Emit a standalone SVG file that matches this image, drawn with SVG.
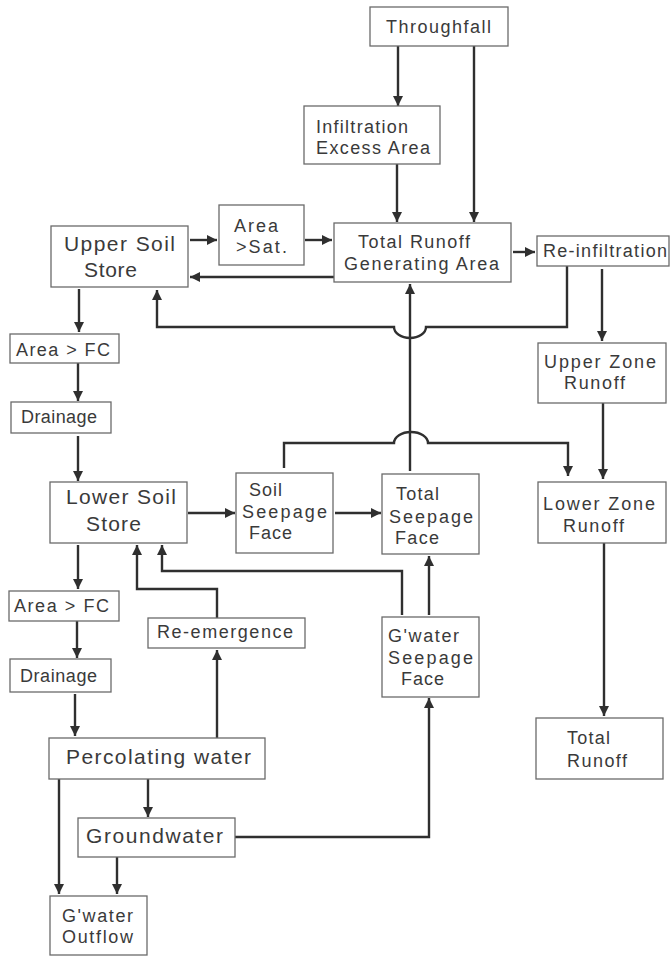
<svg xmlns="http://www.w3.org/2000/svg" width="672" height="956" viewBox="0 0 672 956">
<defs>
<marker id="ah" markerUnits="userSpaceOnUse" markerWidth="11" markerHeight="11" refX="10" refY="5" orient="auto">
<path d="M0,0 L10,5 L0,10 z" fill="#2f2f2f"/>
</marker>
<style>
.box{fill:#fff;stroke:#6a6a6a;stroke-width:1.3}
.t{font-family:"Liberation Sans",Arial,sans-serif;font-size:18px;fill:#3a3a3a}
.b{font-size:21px}
.c{fill:none;stroke:#2f2f2f;stroke-width:2.4}
.a{marker-end:url(#ah)}
</style>
</defs>
<rect width="672" height="956" fill="#fff"/>
<g id="connectors">
<path class="c a" d="M398,46 V106"/>
<path class="c a" d="M474,46 V222"/>
<path class="c a" d="M397,164 V222"/>
<path class="c a" d="M190,240 H217"/>
<path class="c a" d="M305,240 H332"/>
<path class="c a" d="M334,277 H190"/>
<path class="c a" d="M513,252 H535"/>
<path class="c a" d="M567,266 V327 H426 A16,11 0 0 1 394,327 H157 V290"/>
<path class="c a" d="M602,269 V341"/>
<path class="c a" d="M284,468 V443 H394 A17,11 0 0 1 428,443 H568 V476"/>
<path class="c a" d="M410,471 V284"/>
<path class="c a" d="M603,403 V479"/>
<path class="c a" d="M188,513 H235"/>
<path class="c a" d="M335,513 H381"/>
<path class="c a" d="M402,615 V571 H162 V545"/>
<path class="c a" d="M429,615 V556"/>
<path class="c a" d="M217,618 V589 H137 V545"/>
<path class="c a" d="M217,738 V650"/>
<path class="c a" d="M79,289 V332"/>
<path class="c a" d="M78,363 V401"/>
<path class="c a" d="M78,436 V481"/>
<path class="c a" d="M78,545 V589"/>
<path class="c a" d="M77,621 V658"/>
<path class="c a" d="M75,694 V736"/>
<path class="c a" d="M148,779 V817"/>
<path class="c a" d="M59,779 V894"/>
<path class="c a" d="M117,857 V894"/>
<path class="c a" d="M235,837 H429 V698"/>
<path class="c a" d="M604,543 V716"/>
</g>
<g id="throughfall"><rect class="box" x="370" y="7" width="138" height="39"/><text class="t" x="386" y="33" textLength="105" lengthAdjust="spacing">Throughfall</text></g>
<g id="infiltration-excess-area"><rect class="box" x="304" y="106" width="136" height="58"/><text class="t" x="316" y="133" textLength="92" lengthAdjust="spacing">Infiltration</text><text class="t" x="316" y="154" textLength="114" lengthAdjust="spacing">Excess Area</text></g>
<g id="area-sat"><rect class="box" x="219" y="205" width="85" height="60"/><text class="t" x="234" y="232" textLength="44" lengthAdjust="spacing">Area</text><text class="t" x="236" y="253" textLength="51" lengthAdjust="spacing">&gt;Sat.</text></g>
<g id="total-runoff-generating-area"><rect class="box" x="334" y="223" width="177" height="59"/><text class="t" x="358" y="248" textLength="112" lengthAdjust="spacing">Total Runoff</text><text class="t" x="344" y="270" textLength="155" lengthAdjust="spacing">Generating Area</text></g>
<g id="re-infiltration"><rect class="box" x="537" y="236" width="132" height="30"/><text class="t" x="543" y="257" textLength="124" lengthAdjust="spacing">Re-infiltration</text></g>
<g id="upper-soil-store"><rect class="box" x="51" y="226" width="137" height="61"/><text class="t b" x="64" y="251" textLength="111" lengthAdjust="spacing">Upper Soil</text><text class="t b" x="84" y="277" textLength="53" lengthAdjust="spacing">Store</text></g>
<g id="area-fc-1"><rect class="box" x="10" y="334" width="109" height="29"/><text class="t" x="16" y="356" textLength="94" lengthAdjust="spacing">Area &gt; FC</text></g>
<g id="drainage-1"><rect class="box" x="11" y="402" width="100" height="31"/><text class="t" x="21" y="423" textLength="76" lengthAdjust="spacing">Drainage</text></g>
<g id="upper-zone-runoff"><rect class="box" x="538" y="343" width="128" height="60"/><text class="t" x="544" y="368" textLength="112" lengthAdjust="spacing">Upper Zone</text><text class="t" x="564" y="389" textLength="61" lengthAdjust="spacing">Runoff</text></g>
<g id="lower-soil-store"><rect class="box" x="50" y="482" width="137" height="61"/><text class="t b" x="66" y="504" textLength="110" lengthAdjust="spacing">Lower Soil</text><text class="t b" x="86" y="531" textLength="55" lengthAdjust="spacing">Store</text></g>
<g id="soil-seepage-face"><rect class="box" x="236" y="473" width="97" height="80"/><text class="t" x="249" y="496" textLength="33" lengthAdjust="spacing">Soil</text><text class="t" x="242" y="518" textLength="85" lengthAdjust="spacing">Seepage</text><text class="t" x="249" y="539" textLength="43" lengthAdjust="spacing">Face</text></g>
<g id="total-seepage-face"><rect class="box" x="382" y="474" width="97" height="80"/><text class="t" x="396" y="500" textLength="43" lengthAdjust="spacing">Total</text><text class="t" x="389" y="523" textLength="84" lengthAdjust="spacing">Seepage</text><text class="t" x="395" y="544" textLength="44" lengthAdjust="spacing">Face</text></g>
<g id="lower-zone-runoff"><rect class="box" x="538" y="482" width="128" height="61"/><text class="t" x="543" y="510" textLength="112" lengthAdjust="spacing">Lower Zone</text><text class="t" x="563" y="532" textLength="61" lengthAdjust="spacing">Runoff</text></g>
<g id="area-fc-2"><rect class="box" x="9" y="591" width="110" height="30"/><text class="t" x="14" y="612" textLength="95" lengthAdjust="spacing">Area &gt; FC</text></g>
<g id="re-emergence"><rect class="box" x="148" y="618" width="157" height="30"/><text class="t" x="157" y="638" textLength="136" lengthAdjust="spacing">Re-emergence</text></g>
<g id="gwater-seepage-face"><rect class="box" x="382" y="617" width="97" height="80"/><text class="t" x="388" y="642" textLength="71" lengthAdjust="spacing">G'water</text><text class="t" x="388" y="664" textLength="85" lengthAdjust="spacing">Seepage</text><text class="t" x="401" y="685" textLength="43" lengthAdjust="spacing">Face</text></g>
<g id="drainage-2"><rect class="box" x="10" y="659" width="101" height="33"/><text class="t" x="20" y="682" textLength="77" lengthAdjust="spacing">Drainage</text></g>
<g id="total-runoff"><rect class="box" x="536" y="718" width="127" height="61"/><text class="t" x="567" y="744" textLength="43" lengthAdjust="spacing">Total</text><text class="t" x="567" y="767" textLength="60" lengthAdjust="spacing">Runoff</text></g>
<g id="percolating-water"><rect class="box" x="49" y="738" width="216" height="41"/><text class="t b" x="66" y="764" textLength="185" lengthAdjust="spacing">Percolating water</text></g>
<g id="groundwater"><rect class="box" x="78" y="818" width="157" height="39"/><text class="t b" x="86" y="843" textLength="137" lengthAdjust="spacing">Groundwater</text></g>
<g id="gwater-outflow"><rect class="box" x="50" y="896" width="97" height="59"/><text class="t" x="62" y="922" textLength="71" lengthAdjust="spacing">G'water</text><text class="t" x="62" y="943" textLength="71" lengthAdjust="spacing">Outflow</text></g>
</svg>
